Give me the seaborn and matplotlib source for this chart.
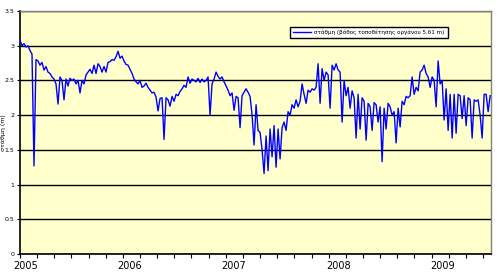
import numpy as np
import pandas as pd
import matplotlib
matplotlib.use("Agg")
import matplotlib.pyplot as plt
import matplotlib.dates as mdates
import seaborn as sns

# ---- data (weekly readings, metres) ----
start_date = "2005-01-01"
levels = [
    3.08, 3.00, 3.03, 2.98, 3.00, 2.93, 2.88, 1.27, 2.80, 2.78,
    2.72, 2.76, 2.65, 2.70, 2.62, 2.60, 2.55, 2.52, 2.45, 2.16,
    2.55, 2.50, 2.22, 2.52, 2.42, 2.53, 2.50, 2.52, 2.45, 2.50,
    2.32, 2.50, 2.45, 2.58, 2.62, 2.66, 2.60, 2.72, 2.60, 2.74,
    2.70, 2.62, 2.70, 2.62, 2.76, 2.77, 2.80, 2.79, 2.84, 2.92,
    2.82, 2.85, 2.78, 2.73, 2.72, 2.66, 2.60, 2.52, 2.48, 2.45,
    2.50, 2.40, 2.42, 2.46, 2.40, 2.36, 2.32, 2.33, 2.26, 2.06,
    2.24, 2.25, 1.65, 2.25, 2.22, 2.13, 2.27, 2.20, 2.30, 2.28,
    2.34, 2.38, 2.43, 2.40, 2.55, 2.46, 2.52, 2.50, 2.48, 2.53,
    2.47, 2.52, 2.48, 2.50, 2.55, 2.00, 2.45, 2.52, 2.62, 2.56,
    2.52, 2.55, 2.48, 2.42, 2.36, 2.28, 2.32, 2.07, 2.27, 2.25,
    1.82, 2.28, 2.33, 2.38, 2.33, 2.27, 2.00, 1.57, 2.15, 1.78,
    1.75, 1.50, 1.16, 1.70, 1.20, 1.80, 1.40, 1.85, 1.25, 1.80,
    1.37, 1.82, 1.90, 1.78, 2.05, 2.00, 2.15, 2.10, 2.22, 2.12,
    2.20, 2.45, 2.30, 2.17, 2.36, 2.33, 2.38, 2.36, 2.40, 2.74,
    2.17, 2.67, 2.50, 2.62, 2.58, 2.10, 2.72, 2.65, 2.74, 2.65,
    2.62, 1.90, 2.50, 2.28, 2.40, 2.10, 2.35, 2.25, 1.67, 2.30,
    1.80, 2.25, 2.20, 1.64, 2.17, 2.12, 1.78, 2.18, 2.15, 1.90,
    2.12, 1.33, 2.10, 1.80, 2.17, 2.12, 2.00, 2.05, 1.60, 2.10,
    1.83, 2.20, 2.15, 2.27, 2.25, 2.28, 2.55, 2.30, 2.40, 2.35,
    2.62, 2.65, 2.72, 2.60, 2.55, 2.40, 2.55, 2.50, 2.12, 2.78,
    2.45, 2.50, 1.93, 2.38, 1.78, 2.30, 1.67, 2.30, 1.74, 2.30,
    2.28, 1.95, 2.28, 1.85, 2.25, 2.22, 1.67, 2.22, 2.20, 2.22,
    2.00, 1.67, 2.30, 2.30, 2.05, 2.28,
]
year_labels = ["2005", "2006", "2007", "2008", "2009"]
y_ticks = [0, 0.5, 1, 1.5, 2, 2.5, 3, 3.5]
series_label = "στάθμη (βάθος τοποθέτησης οργάνου 5.61 m)"
y_title = "στάθμη (m)"

dates = pd.date_range(start_date, periods=len(levels), freq="7D")
df = pd.DataFrame({"date": dates, "level": levels})

# ---- figure ----
plt.rcParams["font.family"] = ["DejaVu Sans"]
fig = plt.figure(figsize=(5.02, 2.76), dpi=100)
fig.patch.set_facecolor("white")
ax = fig.add_axes([20 / 502, 1 - 254 / 276, 471 / 502, 243 / 276])
ax.set_facecolor("#FFFFCC")

sns.lineplot(data=df, x="date", y="level", ax=ax, color="#0000FF",
             linewidth=1.0, label=series_label, zorder=3)

t0 = pd.Timestamp(start_date)
ax.set_xlim(t0, t0 + pd.Timedelta(days=1648))
ax.set_ylim(0, 3.5)
ax.set_yticks(y_ticks)
ax.set_yticklabels([f"{v:g}" for v in y_ticks], fontsize=4.5)
ax.yaxis.grid(True, color="black", linewidth=1.0)
ax.xaxis.grid(False)
ax.set_axisbelow(True)

# tick marks every 60 days, year labels as minor ticks without marks
major = [t0 + pd.Timedelta(days=60 * k) for k in range(28)]
ax.set_xticks(major)
ax.set_xticklabels([""] * len(major))
minor = [pd.Timestamp(f"{y}-01-01") + pd.Timedelta(days=18) for y in year_labels]
ax.set_xticks(minor, minor=True)
ax.set_xticklabels(year_labels, minor=True, fontsize=7)
ax.tick_params(axis="x", which="major", length=3, width=0.8, color="black")
ax.tick_params(axis="x", which="minor", length=0, pad=5)
ax.tick_params(axis="y", length=2, width=0.8, pad=2)

ax.set_xlabel("")
ax.set_ylabel(y_title, fontsize=4.5)
ax.yaxis.set_label_coords(-0.030, 0.5)

for s in ["left", "bottom"]:
    ax.spines[s].set_color("black")
    ax.spines[s].set_linewidth(1.2)
for s in ["top", "right"]:
    ax.spines[s].set_color("#808080")
    ax.spines[s].set_linewidth(1.0)

leg = ax.legend(loc="upper left", bbox_to_anchor=(270 / 471, 1 - 16 / 243),
                fontsize=4.1, frameon=True, fancybox=False, handlelength=3.2,
                borderpad=0.5, handletextpad=0.6, borderaxespad=0)
leg.get_frame().set_edgecolor("black")
leg.get_frame().set_linewidth(1.0)
leg.get_frame().set_facecolor("white")
leg.get_frame().set_alpha(1)

fig.savefig("out.png", dpi=100, facecolor="white")
